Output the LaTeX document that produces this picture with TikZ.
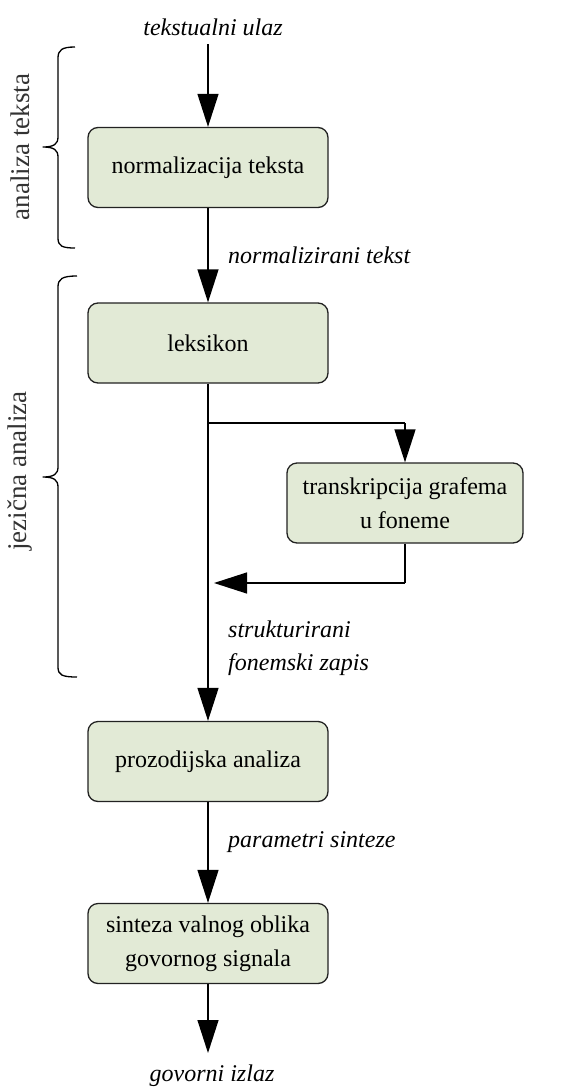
\documentclass[tikz,border=0pt]{standalone}
\usepackage{fontspec}
\setmainfont{Liberation Serif}
\usetikzlibrary{arrows.meta}
\definecolor{boxfill}{HTML}{E2EAD6}
\definecolor{boxline}{HTML}{222222}
\definecolor{lbl}{HTML}{333333}
\begin{document}
\begin{tikzpicture}[x=1pt,y=-1pt,
  proc/.style={draw=boxline,fill=boxfill,line width=1.3pt,rounded corners=10pt,
    minimum width=240pt,minimum height=80pt,align=center,
    font=\fontsize{24}{34}\selectfont,inner sep=0pt},
  flow/.style={line width=1.3pt,-{Triangle[width=21pt,length=33pt]}},
  link/.style={line width=1.3pt},
  itl/.style={font=\fontsize{24}{33}\selectfont\itshape,inner sep=0pt},
  grp/.style={font=\fontsize{27}{30}\selectfont,text=lbl,rotate=90,inner sep=0pt},
  brace/.style={line width=1.3pt,line join=round}]
\useasboundingbox (0,0) rectangle (578,1090);

% nodes
\node[itl] (in) at (213,27) {tekstualni ulaz};
\coordinate (inS) at (208,44);
\node[proc] (n1) at (208,167.5) {normalizacija teksta};
\node[proc] (n2) at (208,343) {leksikon};
\node[proc,minimum width=236pt] (n3) at (405,503) {transkripcija grafema\\u foneme};
\node[proc] (n4) at (208,761.5) {prozodijska analiza};
\node[proc] (n5) at (208,943.5) {sinteza valnog oblika\\govornog signala};
\node[itl] (out) at (212,1076) {govorni izlaz};
\coordinate (outE) at (208,1053);

\coordinate (split) at (208,423);
\coordinate (cornA) at (405,423);
\coordinate (cornB) at (405,583);
\coordinate (joinT) at (214,583);

% labels
\node[itl,anchor=west] (l1) at (228,255) {normalizirani tekst};
\node[itl,anchor=west,align=left] (l2) at (228,648) {strukturirani\\fonemski zapis};
\node[itl,anchor=west] (l3) at (228,842) {parametri sinteze};

% group labels
\node[grp] (g1) at (20,147) {analiza teksta};
\node[grp] (g2) at (20,471) {jezična analiza};

% connectors
\draw[flow] (inS) -- (n1.north);
\draw[flow] (n1.south) -- (n2.north);
\draw[link] (n2.south) -- (split);
\draw[link] (split) -- (cornA);
\draw[flow] (cornA) -- (n3.north);
\draw[link] (n3.south) -- (cornB);
\draw[flow] (cornB) -- (joinT);
\draw[flow] (split) -- (n4.north);
\draw[flow] (n4.south) -- (n5.north);
\draw[flow] (n5.south) -- (outE);

% braces
\draw[brace] (75,47) .. controls (62,47) and (58,50) .. (58,58)
  -- (58,137) .. controls (58,144) and (54,147) .. (43,147)
  .. controls (54,147) and (58,150) .. (58,157)
  -- (58,238) .. controls (58,246) and (62,248) .. (75,248);
\draw[brace] (77,276) .. controls (62,276) and (58,279) .. (58,287)
  -- (58,467) .. controls (58,474) and (54,477) .. (43,477)
  .. controls (54,477) and (58,480) .. (58,487)
  -- (58,667) .. controls (58,675) and (62,677) .. (77,677);
\end{tikzpicture}
\end{document}
